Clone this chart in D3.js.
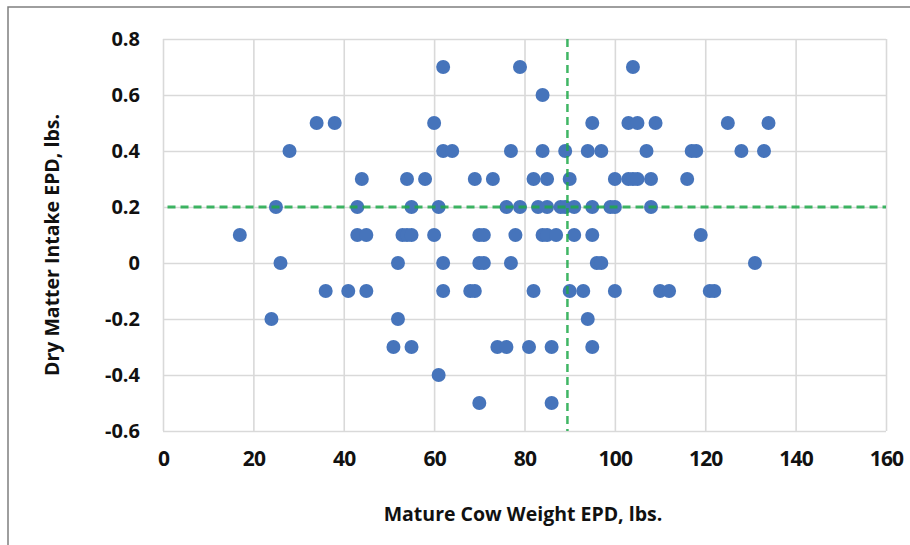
<!DOCTYPE html>
<html>
<head>
<meta charset="utf-8">
<script src="https://cdn.jsdelivr.net/npm/d3@7"></script>
<style>
	body { margin: 0; background: #fff; }
	svg { display: block; }
	.tick-y text { font-family: "Open Sans", sans-serif; font-weight: 700; font-size: 20px; fill: #111; }
	.tick-x text { font-family: "Open Sans", sans-serif; font-weight: 700; font-size: 21px; fill: #111; letter-spacing: -0.8px; }
	.grid line { stroke: #d9d9d9; stroke-width: 1.6; }
</style>
</head>
<body>
<script>
// Mature Cow Weight EPD (lbs.) of each sire, grouped by Dry Matter Intake EPD
var dmi07 = [62, 79, 104];
var dmi06 = [84];
var dmi05 = [34, 38, 60, 95, 103, 105, 109, 125, 134];
var dmi04 = [28, 62, 64, 77, 84, 89, 94, 97, 107, 117, 118, 128, 133];
var dmi03 = [44, 54, 58, 69, 73, 82, 85, 90, 100, 103, 104, 105, 108, 116];
var dmi02 = [25, 43, 55, 61, 76, 79, 83, 85, 88, 89, 91, 95, 99, 100, 108];
var dmi01 = [17, 43, 45, 53, 54, 55, 60, 70, 71, 78, 84, 85, 87, 91, 95, 119];
var dmi00 = [26, 52, 62, 70, 71, 77, 96, 97, 131];
var dmiM01 = [36, 41, 45, 62, 68, 69, 82, 90, 93, 100, 110, 112, 121, 122];
var dmiM02 = [24, 52, 94];
var dmiM03 = [51, 55, 74, 76, 81, 86, 95];
var dmiM04 = [61];
var dmiM05 = [70, 86];

var dmiLevels = [0.7, 0.6, 0.5, 0.4, 0.3, 0.2, 0.1, 0, -0.1, -0.2, -0.3, -0.4, -0.5];
var mcwByLevel = [dmi07, dmi06, dmi05, dmi04, dmi03, dmi02, dmi01, dmi00, dmiM01, dmiM02, dmiM03, dmiM04, dmiM05];

// breed average reference lines
var avgMCW = 89.5;
var avgDMI = 0.2;

var xTicks = [0, 20, 40, 60, 80, 100, 120, 140, 160];
var yTicks = [-0.6, -0.4, -0.2, 0, 0.2, 0.4, 0.6, 0.8];

var xTitle = 'Mature Cow Weight EPD, lbs.';
var yTitle = 'Dry Matter Intake EPD, lbs.';

var width = 910, height = 545;
var plot = {left: 163, right: 886, top: 39, bottom: 431};

var points = [];
dmiLevels.forEach(function(lv, i){
	mcwByLevel[i].forEach(function(w){
		points.push({x: w, y: lv});
	});
});

var x = d3.scaleLinear().domain([0, 160]).range([plot.left, plot.right]);
var y = d3.scaleLinear().domain([-0.6, 0.8]).range([plot.bottom, plot.top]);

var svg = d3.select('body').append('svg')
	.attr('width', width)
	.attr('height', height);

svg.append('rect').attr('width', width).attr('height', height).attr('fill', '#fff');

// outer frame (only left and top edges are inside the picture)
svg.append('path')
	.attr('d', 'M8,' + height + 'V7H' + width)
	.attr('fill', 'none')
	.attr('stroke', '#7f7f7f')
	.attr('stroke-width', 1.5);

// gridlines
svg.append('g').attr('class', 'grid')
	.attr('transform', 'translate(0,' + plot.bottom + ')')
	.call(d3.axisBottom(x).tickValues(xTicks).tickSize(-(plot.bottom - plot.top)).tickFormat(''))
	.call(function(g){ g.select('.domain').remove(); });

svg.append('g').attr('class', 'grid')
	.attr('transform', 'translate(' + plot.left + ',0)')
	.call(d3.axisLeft(y).tickValues(yTicks).tickSize(-(plot.right - plot.left)).tickFormat(''))
	.call(function(g){ g.select('.domain').remove(); });

// tick labels
svg.append('g').attr('class', 'tick-x')
	.attr('transform', 'translate(0,' + plot.bottom + ')')
	.call(d3.axisBottom(x).tickValues(xTicks).tickSize(0).tickPadding(20))
	.call(function(g){ g.select('.domain').remove(); });

svg.append('g').attr('class', 'tick-y')
	.attr('transform', 'translate(' + (plot.left - 23) + ',0)')
	.call(d3.axisLeft(y).tickValues(yTicks).tickSize(0).tickPadding(0)
		.tickFormat(function(d){ return d === 0 ? '0' : d.toFixed(1); }))
	.call(function(g){ g.select('.domain').remove(); });

// points
svg.append('g').selectAll('circle')
	.data(points)
	.enter().append('circle')
		.attr('cx', function(d){ return x(d.x); })
		.attr('cy', function(d){ return y(d.y); })
		.attr('r', 7)
		.attr('fill', '#4674bb');

// average lines drawn over the points
svg.append('line')
	.attr('x1', x(1)).attr('x2', x(160))
	.attr('y1', y(avgDMI)).attr('y2', y(avgDMI))
	.attr('stroke', '#1faa4a')
	.attr('stroke-width', 3)
	.attr('stroke-dasharray', '8,5')
	.attr('opacity', 0.85);

svg.append('line')
	.attr('x1', x(avgMCW)).attr('x2', x(avgMCW))
	.attr('y1', y(0.8)).attr('y2', y(-0.6))
	.attr('stroke', '#1faa4a')
	.attr('stroke-width', 2.5)
	.attr('stroke-dasharray', '8,5')
	.attr('opacity', 0.85);

// axis titles
svg.append('text')
	.attr('x', 523).attr('y', 521)
	.attr('text-anchor', 'middle')
	.style('font-family', '"Open Sans", sans-serif')
	.style('font-weight', 700)
	.style('font-size', '19.5px')
	.style('fill', '#111')
	.text(xTitle);

svg.append('text')
	.attr('transform', 'translate(59,245) rotate(-90)')
	.attr('text-anchor', 'middle')
	.style('font-family', '"Open Sans", sans-serif')
	.style('font-weight', 700)
	.style('font-size', '19.5px')
	.style('fill', '#111')
	.text(yTitle);
</script>
</body>
</html>
